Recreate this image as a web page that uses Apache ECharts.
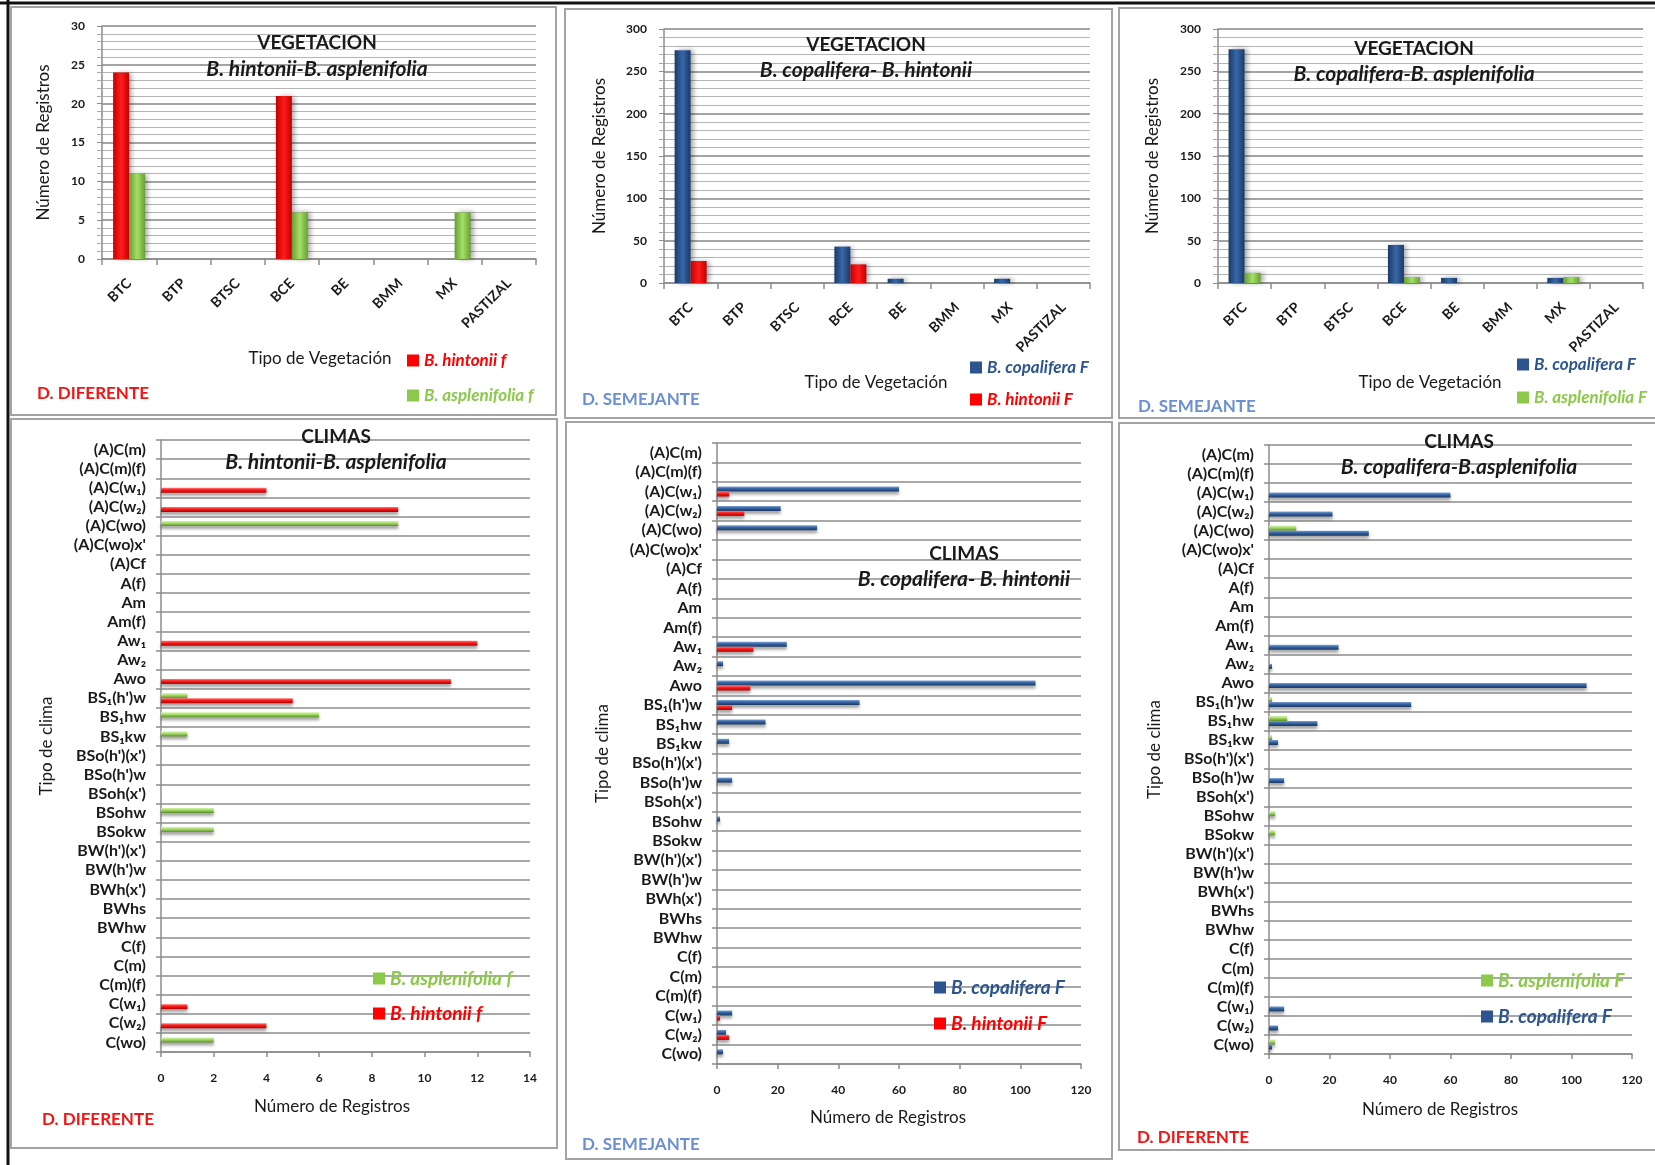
<!DOCTYPE html>
<html>
<head>
<meta charset="utf-8">
<script src="https://cdn.jsdelivr.net/npm/echarts@6/dist/echarts.min.js"></script>
<style>
  html, body { margin: 0; padding: 0; background: #ffffff; }
  #chart { width: 1655px; height: 1165px; }
</style>
</head>
<body>
<div id="chart"></div>
<script>
// ---- Vegetation panels: number of records per vegetation type ----
const vegTypes = ['BTC', 'BTP', 'BTSC', 'BCE', 'BE', 'BMM', 'MX', 'PASTIZAL'];
const vegHintonii_f     = [24, 0, 0, 21, 0, 0, 0, 0];
const vegAsplenifolia_f = [11, 0, 0, 6, 0, 0, 6, 0];
const vegCopalifera_H   = [275, 0, 0, 43, 5, 0, 5, 0];
const vegHintonii_F     = [26, 0, 0, 22, 0, 0, 0, 0];
const vegCopalifera_A   = [276, 0, 0, 45, 6, 0, 6, 0];
const vegAsplenifolia_F = [12, 0, 0, 7, 0, 0, 7, 0];

// ---- Climate panels: number of records per climate type ----
const climates = [
  '(A)C(m)', '(A)C(m)(f)', '(A)C(w\u2081)', '(A)C(w\u2082)', '(A)C(wo)', "(A)C(wo)x'", '(A)Cf', 'A(f)',
  'Am', 'Am(f)', 'Aw\u2081', 'Aw\u2082', 'Awo', "BS\u2081(h')w", 'BS\u2081hw', 'BS\u2081kw',
  "BSo(h')(x')", "BSo(h')w", "BSoh(x')", 'BSohw', 'BSokw', "BW(h')(x')", "BW(h')w", "BWh(x')",
  'BWhs', 'BWhw', 'C(f)', 'C(m)', 'C(m)(f)', 'C(w\u2081)', 'C(w\u2082)', 'C(wo)'
];
const climHintonii_f     = [0,0,4,9,0,0,0,0, 0,0,12,0,11,5,0,0, 0,0,0,0,0,0,0,0, 0,0,0,0,0,1,4,0];
const climAsplenifolia_f = [0,0,0,0,9,0,0,0, 0,0,0,0,0,1,6,1, 0,0,0,2,2,0,0,0, 0,0,0,0,0,0,0,2];
const climCopalifera_H   = [0,0,60,21,33,0,0,0, 0,0,23,2,105,47,16,4, 0,5,0,1,0,0,0,0, 0,0,0,0,0,5,3,2];
const climHintonii_F     = [0,0,4,9,0,0,0,0, 0,0,12,0,11,5,0,0, 0,0,0,0,0,0,0,0, 0,0,0,0,0,1,4,0];
const climCopalifera_A   = [0,0,60,21,33,0,0,0, 0,0,23,1,105,47,16,3, 0,5,0,0,0,0,0,0, 0,0,0,0,0,5,3,1];
const climAsplenifolia_F = [0,0,0,0,9,0,0,0, 0,0,0,0,0,1,6,1, 0,0,0,2,2,0,0,0, 0,0,0,0,0,0,0,2];

const FONT = 'Lato, "DejaVu Sans", sans-serif';
const INK = '#1a1a1a';
const AXIS = '#8c8c8c';

const RED   = { edge: '#c40000', mid: '#ff1c1c', light: '#ff7a7a', dark: '#b00000', flat: '#ff0000' };
const BLUE  = { edge: '#1b3a68', mid: '#3868a8', light: '#7ea2d6', dark: '#1a3660', flat: '#2c5590' };
const GREEN = { edge: '#66a032', mid: '#a6de68', light: '#d6f2ae', dark: '#5a8e28', flat: '#8cc94a' };

const G = echarts.graphic;

// Column fill: darker edges, bright centre
function colFill(c) {
  return new G.LinearGradient(0, 0, 1, 0, [
    { offset: 0, color: c.edge }, { offset: 0.5, color: c.mid }, { offset: 1, color: c.edge }
  ]);
}
// Horizontal bar fill: light top, dark bottom
function rowFill(c) {
  return new G.LinearGradient(0, 0, 0, 1, [
    { offset: 0, color: c.light }, { offset: 0.4, color: c.mid }, { offset: 1, color: c.dark }
  ]);
}

function colSeries(name, data, gi, c) {
  return {
    type: 'bar', name, data, xAxisIndex: gi, yAxisIndex: gi,
    barWidth: 16, barGap: '0%',
    itemStyle: { color: colFill(c), shadowColor: 'rgba(0,0,0,0.35)', shadowBlur: 5, shadowOffsetX: 3 },
    emphasis: { disabled: true }
  };
}
function rowSeries(name, data, gi, c) {
  return {
    type: 'bar', name, data, xAxisIndex: gi, yAxisIndex: gi,
    barWidth: 5, barGap: '0%',
    itemStyle: { color: rowFill(c), shadowColor: 'rgba(0,0,0,0.35)', shadowBlur: 3, shadowOffsetY: 3 },
    emphasis: { disabled: true }
  };
}

const axisLine = { show: true, lineStyle: { color: AXIS, width: 1.5 } };
const nameStyle = { color: INK, fontFamily: FONT, fontSize: 17 };

function vegXAxis(gi) {
  return {
    type: 'category', gridIndex: gi, data: vegTypes, boundaryGap: true,
    axisLine, axisTick: { show: true, interval: 0, length: 6, lineStyle: { color: AXIS, width: 1.5 } },
    axisLabel: { interval: 0, rotate: 45, margin: 22, color: INK, fontFamily: FONT, fontWeight: 'bold', fontSize: 14 },
    splitLine: { show: false }
  };
}
function vegYAxis(gi, max, step, gap) {
  return {
    type: 'value', gridIndex: gi, min: 0, max, interval: step,
    name: 'Número de Registros', nameLocation: 'middle', nameGap: gap, nameTextStyle: nameStyle,
    axisLine, axisTick: { show: true, length: 5, lineStyle: { color: AXIS } },
    minorTick: { show: true, splitNumber: 5, length: 5, lineStyle: { color: '#a8a8a8' } },
    axisLabel: { margin: 17, color: INK, fontFamily: FONT, fontWeight: 'bold', fontSize: 12 },
    splitLine: { show: true, lineStyle: { color: '#868686', width: 1.5 } },
    minorSplitLine: { show: true, lineStyle: { color: '#b4b4b4', width: 1 } }
  };
}
function climYAxis(gi) {
  return {
    type: 'category', gridIndex: gi, data: climates, inverse: true, boundaryGap: true,
    name: 'Tipo de clima', nameLocation: 'middle', nameGap: 106, nameTextStyle: nameStyle,
    axisLine, axisTick: { show: true, interval: 0, length: 5, lineStyle: { color: AXIS, width: 1.5 } },
    axisLabel: { interval: 0, margin: 15, color: INK, fontFamily: FONT, fontWeight: 'bold', fontSize: 16 },
    splitLine: { show: true, interval: 0, lineStyle: { color: '#8c8c8c', width: 1.5 } }
  };
}
function climXAxis(gi, max, step) {
  return {
    type: 'value', gridIndex: gi, min: 0, max, interval: step,
    axisLine, axisTick: { show: true, length: 5, lineStyle: { color: AXIS, width: 1.5 } },
    axisLabel: { margin: 20, color: INK, fontFamily: FONT, fontWeight: 'bold', fontSize: 12 },
    splitLine: { show: false }
  };
}

function heading(x, y, main, sub, gap) {
  return {
    text: main, subtext: sub, left: x, top: y - 11, textAlign: 'center', padding: 0, itemGap: gap,
    textStyle: { color: INK, fontFamily: FONT, fontWeight: 'bold', fontSize: 19, lineHeight: 22 },
    subtextStyle: { color: INK, fontFamily: FONT, fontWeight: 'bold', fontStyle: 'italic', fontSize: 21, lineHeight: 24 }
  };
}

function legendAt(x, yFirst, spacing, size, items) {
  return {
    orient: 'vertical', left: x, top: yFirst - 8, padding: 0,
    itemWidth: 12, itemHeight: 12, itemGap: spacing - 16, icon: 'rect',
    selectedMode: false,
    textStyle: { fontFamily: FONT, fontWeight: 'bold', fontStyle: 'italic', fontSize: size, lineHeight: 16 },
    data: items.map(([name, c]) => ({ name, itemStyle: { color: c.flat }, textStyle: { color: c.flat } }))
  };
}

function label(text, x, y, color, bold, align, size) {
  return {
    type: 'text', silent: true,
    style: {
      text, x, y, fill: color, textAlign: align || 'center', textVerticalAlign: 'middle',
      font: (bold ? 'bold ' : '') + (size || 17) + 'px ' + FONT
    }
  };
}
function panel(x, y, w, h) {
  return { type: 'rect', silent: true, shape: { x, y, width: w, height: h },
           style: { fill: 'none', stroke: '#a3a3a3', lineWidth: 2 } };
}

const DIF = '#f41414';
const SEM = '#6b8fd4';

const option = {
  backgroundColor: '#ffffff',
  animation: false,
  tooltip: { show: false },
  title: [
    heading(317, 43, 'VEGETACION', 'B. hintonii-B. asplenifolia', 3),
    heading(866, 45, 'VEGETACION', 'B. copalifera- B. hintonii', 2),
    heading(1414, 49, 'VEGETACION', 'B. copalifera-B. asplenifolia', 2),
    heading(336, 437, 'CLIMAS', 'B. hintonii-B. asplenifolia', 2),
    heading(964, 554, 'CLIMAS', 'B. copalifera- B. hintonii', 2),
    heading(1459, 442, 'CLIMAS', 'B. copalifera-B.asplenifolia', 2)
  ],
  legend: [
    legendAt(407, 360, 34, 17, [['B. hintonii f', RED], ['B. asplenifolia f', GREEN]]),
    legendAt(970, 367, 31, 17, [['B. copalifera F', BLUE], ['B. hintonii F', RED]]),
    legendAt(1517, 364, 32, 17, [['B. copalifera F', BLUE], ['B. asplenifolia F', GREEN]]),
    legendAt(373, 977, 32, 19, [['B. asplenifolia f', GREEN], ['B. hintonii f', RED]]),
    legendAt(934, 986, 33, 19, [['B. copalifera F', BLUE], ['B. hintonii F', RED]]),
    legendAt(1481, 979, 33, 19, [['B. asplenifolia F', GREEN], ['B. copalifera F', BLUE]])
  ],
  grid: [
    { left: 102, top: 26, width: 434, height: 233, outerBoundsMode: 'none' },
    { left: 664, top: 29, width: 426, height: 254, outerBoundsMode: 'none' },
    { left: 1218, top: 29, width: 425, height: 254, outerBoundsMode: 'none' },
    { left: 161, top: 440, width: 369, height: 612, outerBoundsMode: 'none' },
    { left: 717, top: 443, width: 364, height: 621, outerBoundsMode: 'none' },
    { left: 1269, top: 445, width: 363, height: 609, outerBoundsMode: 'none' }
  ],
  xAxis: [
    vegXAxis(0), vegXAxis(1), vegXAxis(2),
    climXAxis(3, 14, 2), climXAxis(4, 120, 20), climXAxis(5, 120, 20)
  ],
  yAxis: [
    vegYAxis(0, 30, 5, 50), vegYAxis(1, 300, 50, 56), vegYAxis(2, 300, 50, 57),
    climYAxis(3), climYAxis(4), climYAxis(5)
  ],
  series: [
    colSeries('B. hintonii f', vegHintonii_f, 0, RED),
    colSeries('B. asplenifolia f', vegAsplenifolia_f, 0, GREEN),
    colSeries('B. copalifera F', vegCopalifera_H, 1, BLUE),
    colSeries('B. hintonii F', vegHintonii_F, 1, RED),
    colSeries('B. copalifera F', vegCopalifera_A, 2, BLUE),
    colSeries('B. asplenifolia F', vegAsplenifolia_F, 2, GREEN),
    rowSeries('B. asplenifolia f', climAsplenifolia_f, 3, GREEN),
    rowSeries('B. hintonii f', climHintonii_f, 3, RED),
    rowSeries('B. copalifera F', climCopalifera_H, 4, BLUE),
    rowSeries('B. hintonii F', climHintonii_F, 4, RED),
    rowSeries('B. asplenifolia F', climAsplenifolia_F, 5, GREEN),
    rowSeries('B. copalifera F', climCopalifera_A, 5, BLUE)
  ],
  graphic: {
    elements: [
      panel(11, 7, 545, 408),
      panel(565, 9, 547, 409),
      panel(1119, 8, 545, 410),
      panel(11, 419, 546, 729),
      panel(566, 422, 546, 737),
      panel(1119, 423, 545, 727),
      { type: 'line', silent: true, shape: { x1: 0, y1: 3, x2: 1655, y2: 3 }, style: { stroke: '#111', lineWidth: 3 } },
      { type: 'line', silent: true, shape: { x1: 8, y1: 0, x2: 8, y2: 1165 }, style: { stroke: '#111', lineWidth: 3 } },
      label('Tipo de Vegetación', 320, 359, INK, false),
      label('Tipo de Vegetación', 876, 383, INK, false),
      label('Tipo de Vegetación', 1430, 383, INK, false),
      label('D. DIFERENTE', 37, 394, DIF, true, 'left'),
      label('D. SEMEJANTE', 582, 400, SEM, true, 'left'),
      label('D. SEMEJANTE', 1138, 407, SEM, true, 'left'),
      label('Número de Registros', 332, 1107, INK, false),
      label('Número de Registros', 888, 1118, INK, false),
      label('Número de Registros', 1440, 1110, INK, false),
      label('D. DIFERENTE', 42, 1120, DIF, true, 'left'),
      label('D. SEMEJANTE', 582, 1145, SEM, true, 'left'),
      label('D. DIFERENTE', 1137, 1138, DIF, true, 'left')
    ]
  }
};

const chart = echarts.init(document.getElementById('chart'), null, { renderer: 'canvas' });
chart.setOption(option);
</script>
</body>
</html>
